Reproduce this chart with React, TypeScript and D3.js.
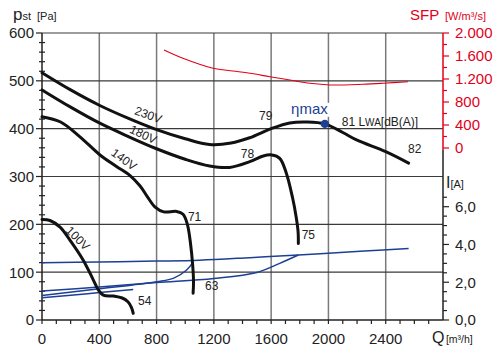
import { useEffect, useRef } from "react";
import * as d3 from "d3";

const W = 493;
const H = 347;
const FONT = "'Liberation Sans', Arial, Helvetica, sans-serif";
const RED = "#e2001a";
const BLUE = "#1d3f94";

const qTicks = [0, 400, 800, 1200, 1600, 2000, 2400];
const paTicks = [0, 100, 200, 300, 400, 500, 600];
const sfpTicks = [0, 400, 800, 1200, 1600, 2000];
const sfpLabels = ["0", "400", "800", "1.200", "1.600", "2.000"];
const ampTicks = [0, 2, 4, 6];
const ampLabels = ["0,0", "2,0", "4,0", "6,0"];

// static pressure [Pa] vs Q [m3/h]
const p230 = [[0, 517], [200, 481], [400, 449], [600, 422], [800, 398], [1000, 379], [1170, 367], [1320, 370], [1450, 381], [1600, 400], [1730, 412], [1850, 414], [1975, 410], [2100, 392], [2200, 376], [2400, 352], [2560, 328]];
const p180 = [[0, 481], [200, 445], [400, 412], [600, 384], [800, 358], [1000, 336], [1170, 322], [1310, 319], [1450, 331], [1545, 343], [1605, 345], [1660, 338], [1705, 308], [1750, 255], [1775, 215], [1788, 185], [1790, 160]];
const p140 = [[0, 425], [130, 414], [265, 383], [405, 345], [520, 321], [615, 302], [685, 280], [735, 258], [790, 236], [850, 226], [940, 227], [985, 221], [1015, 200], [1037, 160], [1052, 115], [1058, 80], [1055, 56]];
const p100 = [[0, 210], [56, 208], [126, 194], [195, 167], [288, 125], [358, 84], [393, 63], [428, 52], [500, 50], [560, 46], [600, 38], [625, 26], [637, 14]];

// current [A]
const i230 = [[0, 3.03], [400, 3.07], [800, 3.12], [1100, 3.17], [1450, 3.3], [1790, 3.44], [2000, 3.53], [2250, 3.65], [2560, 3.78]];
const i180 = [[0, 1.53], [400, 1.75], [800, 1.98], [1200, 2.2], [1500, 2.52], [1660, 3.0], [1790, 3.44]];
const i140 = [[0, 1.3], [400, 1.65], [800, 2.03], [920, 2.22], [1010, 2.65], [1056, 3.08]];
const i100 = [[0, 1.18], [300, 1.38], [637, 1.62]];

// SFP [W/m3/s]
const sfp = [[852, 1704], [984, 1560], [1194, 1386], [1333, 1339], [1452, 1299], [1591, 1240], [1731, 1183], [1871, 1125], [2010, 1096], [2241, 1108], [2380, 1125], [2555, 1153]];

const etaMax = [1975, 410];

const App = () => {
  const svgRef = useRef(null);

  useEffect(() => {
    const svg = d3.select(svgRef.current);
    svg.selectAll("*").remove();

    const x = d3.scaleLinear().domain([0, 2800]).range([42, 443]);
    const y = d3.scaleLinear().domain([0, 600]).range([320, 33]);
    const ySfp = d3.scaleLinear().domain([0, 2000]).range([148, 33]);
    const yAmp = d3.scaleLinear().domain([0, 6]).range([320, 206.7]);

    const x0 = x(0), x1 = x(2800), yTop = y(600), yBot = y(0);

    // grid
    svg.selectAll(".vgrid")
      .data(qTicks.filter((d) => d > 0))
      .enter()
      .append("line")
      .attr("x1", (d) => x(d))
      .attr("x2", (d) => x(d))
      .attr("y1", yTop)
      .attr("y2", yBot)
      .attr("stroke", "#7a7a7a")
      .attr("stroke-width", 1.5);

    svg.selectAll(".hgrid")
      .data(paTicks.filter((d) => d > 0))
      .enter()
      .append("line")
      .attr("x1", x0)
      .attr("x2", x1)
      .attr("y1", (d) => y(d))
      .attr("y2", (d) => y(d))
      .attr("stroke", "#3a3a3a")
      .attr("stroke-width", 1.2);

    // axes lines
    svg.append("line").attr("x1", x0).attr("x2", x0).attr("y1", yTop).attr("y2", yBot)
      .attr("stroke", "#222").attr("stroke-width", 1.5);
    svg.append("line").attr("x1", x0).attr("x2", x1).attr("y1", yBot).attr("y2", yBot)
      .attr("stroke", "#222").attr("stroke-width", 1.5);
    svg.append("line").attr("x1", x1).attr("x2", x1).attr("y1", yTop).attr("y2", 150)
      .attr("stroke", RED).attr("stroke-width", 1.5);
    svg.append("line").attr("x1", x1).attr("x2", x1).attr("y1", 150).attr("y2", yBot)
      .attr("stroke", "#222").attr("stroke-width", 1.5);

    // left ticks
    svg.selectAll(".ltick")
      .data(d3.range(0, 601, 20))
      .enter()
      .append("line")
      .attr("x1", (d) => (d % 100 === 0 ? x0 - 6 : x0 - 3))
      .attr("x2", (d) => (d % 100 === 0 ? x0 : x0 + 3))
      .attr("y1", (d) => y(d))
      .attr("y2", (d) => y(d))
      .attr("stroke", "#222")
      .attr("stroke-width", 1.2);

    // bottom ticks
    svg.selectAll(".btick")
      .data(d3.range(0, 2800, 100))
      .enter()
      .append("line")
      .attr("x1", (d) => x(d))
      .attr("x2", (d) => x(d))
      .attr("y1", yBot)
      .attr("y2", yBot + 4)
      .attr("stroke", "#222")
      .attr("stroke-width", 1.2);

    // right SFP ticks
    svg.selectAll(".stick")
      .data(d3.range(0, 2001, 200))
      .enter()
      .append("line")
      .attr("x1", x1)
      .attr("x2", (d) => (d % 400 === 0 ? x1 + 6 : x1 + 4))
      .attr("y1", (d) => ySfp(d))
      .attr("y2", (d) => ySfp(d))
      .attr("stroke", RED)
      .attr("stroke-width", 1.2);

    // right current ticks
    svg.selectAll(".atick")
      .data(d3.range(0, 6.6, 0.5))
      .enter()
      .append("line")
      .attr("x1", x1)
      .attr("x2", (d) => (d % 2 === 0 ? x1 + 6 : x1 + 4))
      .attr("y1", (d) => yAmp(d))
      .attr("y2", (d) => yAmp(d))
      .attr("stroke", "#222")
      .attr("stroke-width", 1.2);

    // tick labels
    svg.selectAll(".ylab")
      .data(paTicks)
      .enter()
      .append("text")
      .attr("x", 34)
      .attr("y", (d) => y(d))
      .attr("dy", "0.36em")
      .attr("text-anchor", "end")
      .attr("font-size", 15)
      .attr("fill", "#222")
      .text((d) => d);

    svg.selectAll(".xlab")
      .data(qTicks)
      .enter()
      .append("text")
      .attr("x", (d) => x(d))
      .attr("y", 344)
      .attr("text-anchor", "middle")
      .attr("font-size", 15)
      .attr("fill", "#222")
      .text((d) => d);

    svg.selectAll(".slab")
      .data(sfpTicks)
      .enter()
      .append("text")
      .attr("x", 455)
      .attr("y", (d) => ySfp(d))
      .attr("dy", "0.36em")
      .attr("font-size", 15)
      .attr("fill", RED)
      .text((d, i) => sfpLabels[i]);

    svg.selectAll(".alab")
      .data(ampTicks)
      .enter()
      .append("text")
      .attr("x", 455)
      .attr("y", (d) => yAmp(d))
      .attr("dy", "0.36em")
      .attr("font-size", 15)
      .attr("fill", "#222")
      .text((d, i) => ampLabels[i]);

    // axis titles
    const pt = svg.append("text").attr("x", 13).attr("y", 19.5).attr("fill", "#222");
    pt.append("tspan").attr("font-size", 17).text("p");
    pt.append("tspan").attr("font-size", 11).text("st");
    svg.append("text").attr("x", 37).attr("y", 20).attr("font-size", 11).attr("fill", "#222").text("[Pa]");

    svg.append("text").attr("x", 410).attr("y", 20).attr("font-size", 15).attr("fill", RED).text("SFP");
    svg.append("text").attr("x", 445).attr("y", 20).attr("font-size", 11).attr("fill", RED).text("[W/m³/s]");

    const it = svg.append("text").attr("x", 446).attr("y", 188).attr("fill", "#222");
    it.append("tspan").attr("font-size", 16).text("I");
    it.append("tspan").attr("font-size", 11).text("[A]");

    const qt = svg.append("text").attr("x", 432).attr("y", 343).attr("fill", "#222");
    qt.append("tspan").attr("font-size", 16).text("Q");
    qt.append("tspan").attr("font-size", 10.5).attr("dx", 1.5).text("[m³/h]");

    // curves
    const line = d3.line().x((d) => x(d[0])).y((d) => y(d[1])).curve(d3.curveCatmullRom.alpha(0.5));
    const lineAmp = d3.line().x((d) => x(d[0])).y((d) => yAmp(d[1])).curve(d3.curveCatmullRom.alpha(0.5));
    const lineSfp = d3.line().x((d) => x(d[0])).y((d) => ySfp(d[1])).curve(d3.curveCatmullRom.alpha(0.5));

    [i230, i180, i140, i100].forEach((c) => {
      svg.append("path").attr("d", lineAmp(c)).attr("fill", "none")
        .attr("stroke", BLUE).attr("stroke-width", 1.5);
    });

    svg.append("path").attr("d", lineSfp(sfp)).attr("fill", "none")
      .attr("stroke", RED).attr("stroke-width", 1.1);

    [p230, p180, p140, p100].forEach((c) => {
      svg.append("path").attr("d", line(c)).attr("fill", "none")
        .attr("stroke", "#111").attr("stroke-width", 3).attr("stroke-linecap", "round");
    });

    // voltage labels
    const vLabels = [
      { t: "230V", q: 742, p: 429, r: 20 },
      { t: "180V", q: 707, p: 388, r: 25 },
      { t: "140V", q: 573, p: 336, r: 36 },
      { t: "100V", q: 251, p: 171, r: 45 },
    ];
    vLabels.forEach((l) => {
      svg.append("text")
        .attr("transform", `translate(${x(l.q)},${y(l.p)}) rotate(${l.r})`)
        .attr("text-anchor", "middle")
        .attr("dy", "0.35em")
        .attr("font-size", 12)
        .attr("fill", "#222")
        .text(l.t);
    });

    // noise labels
    const nLabels = [
      { t: "79", q: 1515, p: 418 },
      { t: "78", q: 1388, p: 339 },
      { t: "82", q: 2556, p: 349 },
      { t: "71", q: 1019, p: 207 },
      { t: "75", q: 1813, p: 169 },
      { t: "63", q: 1138, p: 63 },
      { t: "54", q: 670, p: 31 },
    ];
    nLabels.forEach((l) => {
      svg.append("text").attr("x", x(l.q)).attr("y", y(l.p))
        .attr("font-size", 12).attr("fill", "#222").text(l.t);
    });

    // ηmax
    svg.append("rect").attr("x", x(1739) - 1).attr("y", y(431) - 11).attr("width", 40).attr("height", 14).attr("fill", "#fff");
    svg.append("text").attr("x", x(1739)).attr("y", y(431))
      .attr("font-size", 15).attr("fill", BLUE).text("ηmax");

    const lwa = svg.append("text").attr("x", x(2093)).attr("y", y(405))
      .attr("font-size", 12).attr("fill", "#222");
    lwa.append("tspan").text("81 L");
    lwa.append("tspan").attr("font-size", 10).text("WA");
    lwa.append("tspan").text("[dB(A)]");

    svg.append("circle").attr("cx", x(etaMax[0])).attr("cy", y(etaMax[1])).attr("r", 4.2).attr("fill", BLUE);
  }, []);

  return (
    <div style={{ position: "absolute", left: 0, top: 0, width: W, height: H, background: "#fff" }}>
      <svg ref={svgRef} width={W} height={H} style={{ display: "block", fontFamily: FONT }}></svg>
    </div>
  );
};

export default App;
